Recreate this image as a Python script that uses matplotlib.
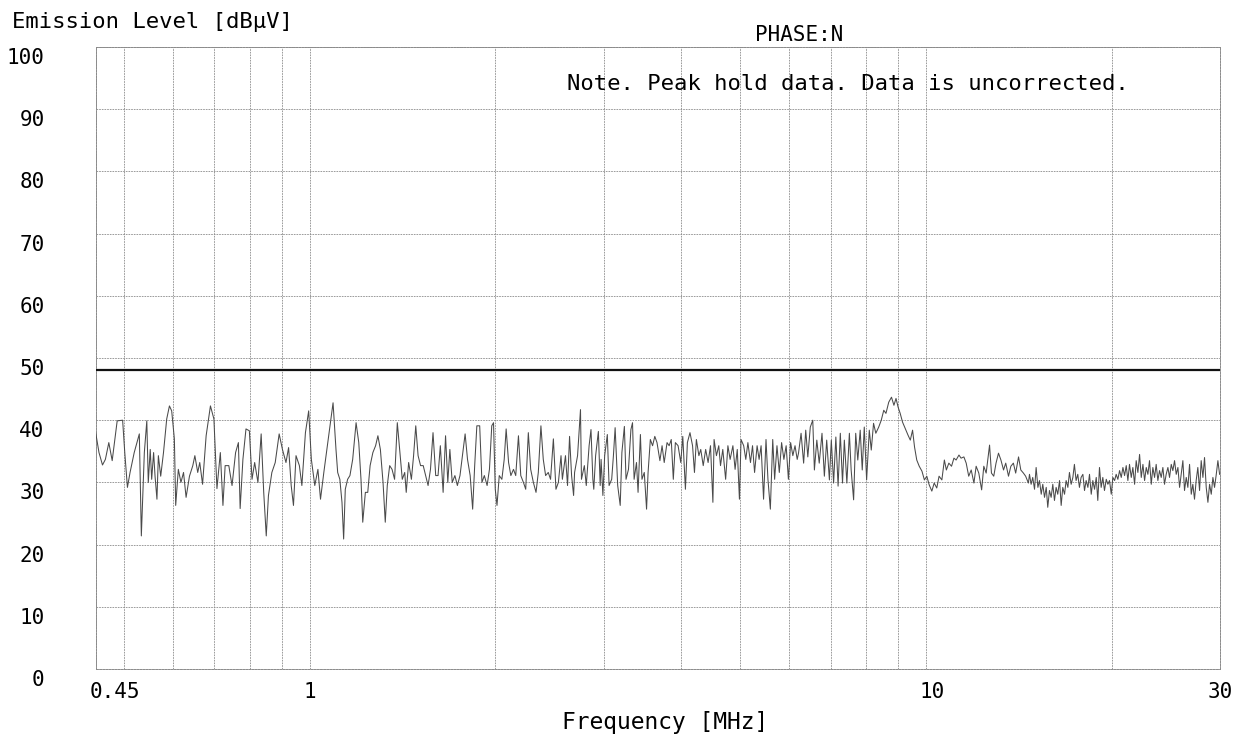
import matplotlib
matplotlib.use('Agg')
import matplotlib.pyplot as plt
import matplotlib.transforms as mtransforms

# peak-hold trace in pieces (MHz, dBuV)
freq_a = [0.448, 0.455, 0.461, 0.466, 0.472, 0.478, 0.487, 0.497, 0.501, 0.506,
          0.511, 0.519, 0.529, 0.533, 0.539, 0.544, 0.547, 0.551, 0.554, 0.558,
          0.561, 0.565, 0.568, 0.573, 0.579, 0.586, 0.592, 0.597, 0.603, 0.606,
          0.612, 0.618, 0.624, 0.630, 0.638, 0.646, 0.651, 0.658, 0.663, 0.670,
          0.679, 0.690, 0.699, 0.707, 0.716, 0.723, 0.729, 0.739, 0.748, 0.758,
          0.766, 0.771, 0.779, 0.788, 0.798, 0.806, 0.814, 0.824, 0.834, 0.842,
          0.850, 0.857, 0.868, 0.879, 0.892, 0.903, 0.915, 0.924, 0.933, 0.941,
          0.950, 0.962, 0.971, 0.984, 0.996, 1.006, 1.019, 1.031, 1.041, 1.054]
level_a = [38.8, 34.8, 32.8, 33.7, 36.4, 33.5, 39.9, 40.0, 34.8, 29.2,
           31.6, 34.8, 37.8, 21.4, 34.8, 39.9, 30.0, 35.3, 30.5, 34.8,
           31.0, 27.3, 34.3, 31.0, 34.8, 40.2, 42.3, 41.5, 37.0, 26.3,
           32.1, 30.0, 31.6, 27.6, 31.0, 32.7, 34.3, 31.6, 33.2, 29.7,
           37.5, 42.3, 40.2, 29.0, 34.8, 26.3, 32.7, 32.7, 29.5, 34.8,
           36.4, 25.8, 33.7, 38.6, 38.3, 30.5, 33.2, 30.0, 37.8, 28.4,
           21.4, 27.9, 31.6, 33.2, 37.8, 35.3, 33.2, 35.6, 29.5, 26.3,
           34.3, 32.7, 29.5, 38.0, 41.5, 33.7, 29.5, 32.1, 27.3, 31.6]

freq_b = [1.091, 1.103, 1.110, 1.119, 1.128, 1.135, 1.142, 1.152, 1.162, 1.174,
          1.189, 1.201, 1.211, 1.219, 1.231, 1.242, 1.253, 1.266, 1.279, 1.290,
          1.302, 1.315, 1.326, 1.336, 1.348, 1.360, 1.373, 1.387, 1.399, 1.413,
          1.426, 1.434, 1.447, 1.462, 1.474, 1.486, 1.499, 1.513, 1.528, 1.542,
          1.556, 1.570, 1.585, 1.601, 1.615, 1.629, 1.646, 1.661, 1.675, 1.688,
          1.703, 1.720, 1.736, 1.753, 1.769, 1.787, 1.803, 1.821, 1.838, 1.852,
          1.867, 1.887, 1.903, 1.920, 1.940, 1.957, 1.974, 1.987, 2.000, 2.013,
          2.030, 2.050, 2.068, 2.083, 2.102, 2.120, 2.141, 2.159, 2.181, 2.200,
          2.222, 2.241, 2.263, 2.283, 2.306, 2.329, 2.349, 2.372, 2.393, 2.414,
          2.438, 2.459, 2.485, 2.509, 2.532, 2.557]
level_b = [42.8, 35.3, 31.6, 30.5, 26.8, 20.9, 28.9, 30.5, 31.1, 33.7,
           39.6, 36.4, 30.5, 23.6, 28.4, 28.4, 32.7, 34.8, 35.9, 37.5,
           35.3, 30.0, 23.6, 29.5, 32.7, 32.1, 30.5, 39.6, 35.3, 30.5,
           31.6, 28.4, 33.2, 30.5, 34.3, 39.1, 34.3, 32.7, 32.7, 31.1,
           29.5, 32.1, 38.0, 31.1, 31.1, 35.9, 28.4, 37.5, 30.0, 35.3,
           30.0, 31.1, 29.5, 31.1, 34.3, 37.8, 33.7, 31.1, 25.7, 32.7,
           39.1, 39.1, 30.0, 31.1, 29.5, 32.1, 39.1, 39.6, 28.9, 26.3,
           31.1, 30.5, 33.7, 38.6, 33.2, 31.1, 32.1, 31.1, 37.5, 31.1,
           30.0, 28.9, 38.0, 32.1, 30.0, 28.4, 31.6, 39.1, 33.7, 31.1,
           31.6, 30.5, 37.0, 28.9, 30.0, 34.3]

freq_c = [2.57, 2.60, 2.62, 2.64, 2.66, 2.68, 2.69, 2.72, 2.75, 2.76,
          2.79, 2.81, 2.84, 2.86, 2.88, 2.89, 2.91, 2.94, 2.96, 2.97,
          2.99, 3.01, 3.04, 3.06, 3.09, 3.11, 3.13, 3.16, 3.19, 3.21,
          3.24, 3.26, 3.29, 3.32, 3.34, 3.36, 3.39, 3.41, 3.44, 3.46,
          3.49, 3.52, 3.54, 3.57, 3.60, 3.63, 3.66, 3.70, 3.73, 3.76,
          3.80, 3.83, 3.86, 3.89, 3.92, 3.96, 4.00, 4.03, 4.07, 4.10,
          4.14, 4.18, 4.21, 4.24, 4.28, 4.31, 4.35, 4.39, 4.43, 4.47,
          4.51, 4.53, 4.57, 4.61, 4.64, 4.68, 4.73, 4.77, 4.81, 4.86,
          4.90, 4.94, 4.98, 5.01, 5.06, 5.10, 5.14, 5.19, 5.23, 5.27,
          5.32, 5.36, 5.40, 5.45, 5.50, 5.54, 5.59, 5.64, 5.68, 5.73,
          5.78, 5.83, 5.88, 5.93, 5.98, 6.03, 6.08, 6.13, 6.18]
level_c = [30.5, 34.3, 29.5, 37.4, 31.1, 27.9, 31.6, 34.3, 41.7, 30.5,
           32.7, 29.5, 35.9, 38.5, 30.5, 28.9, 34.3, 38.2, 29.5, 33.7,
           27.9, 34.3, 37.7, 29.5, 30.5, 34.3, 38.8, 29.5, 26.3, 34.8,
           39.0, 30.5, 32.1, 38.5, 39.6, 30.5, 33.2, 28.4, 37.7, 30.5,
           31.6, 25.7, 31.6, 36.9, 35.9, 37.4, 36.4, 33.5, 35.9, 33.2,
           36.4, 35.9, 36.9, 30.5, 36.4, 35.9, 33.2, 37.4, 28.9, 36.4,
           38.0, 35.9, 31.6, 36.9, 34.3, 35.3, 32.7, 35.3, 33.2, 35.9,
           26.8, 36.9, 34.3, 35.9, 32.7, 35.3, 30.5, 35.9, 33.7, 35.9,
           32.1, 35.3, 27.3, 36.9, 35.9, 33.7, 36.4, 33.2, 35.9, 31.6,
           35.9, 33.7, 35.9, 27.3, 36.9, 30.5, 25.7, 36.9, 30.5, 35.9,
           31.6, 36.4, 33.7, 35.9, 30.5, 36.4, 34.3, 35.9, 33.7]

freq_d = [6.21, 6.27, 6.33, 6.38, 6.43, 6.49, 6.55, 6.59, 6.65, 6.71,
          6.78, 6.84, 6.90, 6.97, 7.02, 7.08, 7.14, 7.20, 7.26, 7.32,
          7.37, 7.44, 7.51, 7.56, 7.63, 7.69, 7.75, 7.82, 7.88, 7.94,
          8.01, 8.09, 8.15, 8.22, 8.29, 8.38, 8.46, 8.54, 8.61, 8.70,
          8.79, 8.87, 8.94, 9.01, 9.08, 9.16, 9.25, 9.35, 9.43, 9.51,
          9.58, 9.66, 9.75, 9.85, 9.94, 10.03, 10.12, 10.22, 10.31, 10.41,
          10.50, 10.61, 10.71, 10.79, 10.89, 11.00, 11.10, 11.19, 11.31, 11.40,
          11.52, 11.62, 11.73, 11.84, 11.96, 12.06, 12.18, 12.31, 12.41, 12.52,
          12.68, 12.77, 12.88, 12.99, 13.11, 13.23, 13.36, 13.47, 13.61, 13.73,
          13.86, 13.98, 14.13, 14.25, 14.39, 14.51, 14.66]
level_d = [34.7, 37.9, 33.1, 38.4, 34.1, 38.9, 40.0, 32.0, 36.8, 33.1,
           37.9, 31.0, 36.8, 30.4, 36.8, 29.9, 37.3, 29.4, 37.9, 29.9,
           36.8, 29.9, 37.9, 32.0, 27.2, 37.9, 33.6, 38.4, 32.0, 38.9,
           30.4, 38.4, 35.2, 39.5, 37.9, 38.9, 40.0, 41.6, 41.1, 42.9,
           43.7, 42.4, 43.5, 42.1, 41.1, 39.7, 38.7, 37.6, 36.8, 38.4,
           35.7, 33.6, 32.6, 31.8, 30.4, 31.0, 29.6, 28.6, 29.9, 29.1,
           31.0, 30.4, 33.6, 32.0, 33.1, 32.6, 33.9, 33.6, 34.4, 33.9,
           34.1, 33.1, 31.0, 32.0, 29.9, 32.6, 31.5, 28.8, 32.6, 31.5,
           36.0, 31.5, 31.0, 33.1, 34.7, 33.6, 32.0, 33.1, 31.0, 32.6,
           33.1, 31.5, 34.1, 32.0, 31.5, 31.0, 29.9]

freq_e = [14.72, 14.81, 14.90, 15.00, 15.09, 15.19, 15.28, 15.38, 15.47, 15.57,
          15.67, 15.76, 15.86, 15.96, 16.06, 16.16, 16.26, 16.36, 16.47, 16.57,
          16.67, 16.78, 16.88, 16.99, 17.09, 17.20, 17.31, 17.41, 17.52, 17.63,
          17.74, 17.85, 17.97, 18.08, 18.19, 18.31, 18.42, 18.54, 18.65, 18.77,
          18.89, 19.00, 19.12, 19.24, 19.36, 19.48, 19.61, 19.73, 19.85, 19.98,
          20.10, 20.23, 20.35, 20.48, 20.61, 20.74, 20.87, 21.00, 21.13, 21.26,
          21.39, 21.53, 21.66, 21.80, 21.93, 22.07, 22.21, 22.35, 22.49, 22.63,
          22.77, 22.91, 23.05, 23.20, 23.34, 23.49, 23.63, 23.78, 23.93, 24.08,
          24.23, 24.38, 24.53, 24.69, 24.84, 25.00, 25.15, 25.31, 25.47, 25.63,
          25.79, 25.95, 26.11, 26.27, 26.44, 26.60, 26.77, 26.94, 27.10, 27.27,
          27.44, 27.61, 27.79, 27.96, 28.14, 28.31, 28.49, 28.67, 28.85, 29.03,
          29.21, 29.39, 29.58, 29.76, 29.95]
level_e = [31.3, 29.7, 30.8, 28.9, 32.4, 29.2, 30.3, 28.1, 29.7, 27.6,
           29.2, 26.0, 28.7, 27.6, 29.7, 27.1, 29.2, 28.1, 30.3, 26.3,
           29.2, 28.1, 30.3, 29.2, 31.6, 29.7, 30.8, 32.9, 30.3, 31.3,
           29.2, 30.8, 31.3, 28.7, 30.3, 29.2, 31.3, 28.1, 30.3, 28.9,
           30.8, 27.1, 32.4, 29.2, 30.8, 28.7, 30.5, 29.7, 30.3, 28.1,
           30.8, 30.3, 31.3, 30.5, 31.9, 30.8, 32.4, 31.1, 32.7, 30.3,
           32.9, 30.8, 32.4, 29.7, 33.5, 31.6, 34.5, 30.8, 32.9, 30.3,
           32.4, 31.3, 33.5, 29.7, 32.4, 30.8, 32.9, 30.3, 31.9, 30.8,
           32.4, 29.7, 31.3, 32.4, 30.8, 32.9, 31.9, 33.5, 31.3, 32.4,
           29.2, 31.3, 33.5, 28.7, 30.8, 29.2, 32.9, 28.1, 29.7, 27.3,
           30.3, 32.4, 28.7, 33.5, 30.8, 34.0, 29.2, 26.8, 29.7, 28.1,
           30.8, 29.2, 31.3, 33.5, 31.3]

# limit line
limit_freq = [0.45, 30.0]
limit_level = [48.0, 48.0]

xtick_vals = [0.45, 1, 10, 30]
xtick_text = ['0.45', '1', '10', '30']
xgrid_minor = [0.5, 0.6, 0.7, 0.8, 0.9, 2, 3, 4, 5, 6, 7, 8, 9, 20]
ytick_vals = list(range(0, 101, 10))

trace_f = freq_a + freq_b + freq_c + freq_d + freq_e
trace_l = level_a + level_b + level_c + level_d + level_e

plt.rcParams['font.family'] = ['DejaVu Sans Mono', 'DejaVu Sans']

fig = plt.figure(figsize=(12.57, 7.39), dpi=100)
fig.patch.set_facecolor('white')
ax = fig.add_axes([0.0764, 0.0947, 0.8942, 0.8417])

ax.plot(trace_f, trace_l, color='#4a4a4a', linewidth=0.75, zorder=3)
ax.plot(limit_freq, limit_level, color='#111111', linewidth=1.6, zorder=4)

ax.set_xscale('log')
ax.set_xlim(0.45, 30)
ax.set_ylim(0, 100)

ax.set_xticks(xtick_vals)
ax.set_xticklabels(xtick_text)
ax.set_xticks(xgrid_minor, minor=True)
ax.xaxis.set_minor_formatter(plt.NullFormatter())
ax.set_yticks(ytick_vals)

grid_kw = dict(color='#8a8a8a', linewidth=0.6, linestyle=(0, (2, 1.2)))
ax.grid(which='both', axis='x', **grid_kw)
ax.grid(which='major', axis='y', **grid_kw)
for s in ax.spines.values():
    s.set_color('#8a8a8a')
    s.set_linewidth(0.7)
    s.set_linestyle((0, (2, 1.2)))

ax.tick_params(which='both', length=0)
ax.tick_params(axis='y', pad=37, labelsize=15)
ax.tick_params(axis='x', pad=9, labelsize=15)

# labels sit a little below their grid lines on the scan
down = mtransforms.ScaledTranslation(0, -9 / 100, fig.dpi_scale_trans)
for lbl in ax.get_yticklabels():
    lbl.set_transform(lbl.get_transform() + down)
xl = ax.get_xticklabels()
xl[0].set_horizontalalignment('left')
xl[0].set_transform(xl[0].get_transform() + mtransforms.ScaledTranslation(-6 / 100, 0, fig.dpi_scale_trans))
xl[2].set_transform(xl[2].get_transform() + mtransforms.ScaledTranslation(6 / 100, 0, fig.dpi_scale_trans))

fig.text(0.0095, 0.970, 'Emission Level [dB\u03bcV]', ha='left', va='center', fontsize=16)
fig.text(0.636, 0.953, 'PHASE:N', ha='center', va='center', fontsize=15)
ax.text(0.669, 0.94, 'Note. Peak hold data. Data is uncorrected.', transform=ax.transAxes,
        ha='center', va='center', fontsize=16)
fig.text(0.529, 0.023, 'Frequency [MHz]', ha='center', va='center', fontsize=16.5)

fig.savefig('out.png', dpi=100)
